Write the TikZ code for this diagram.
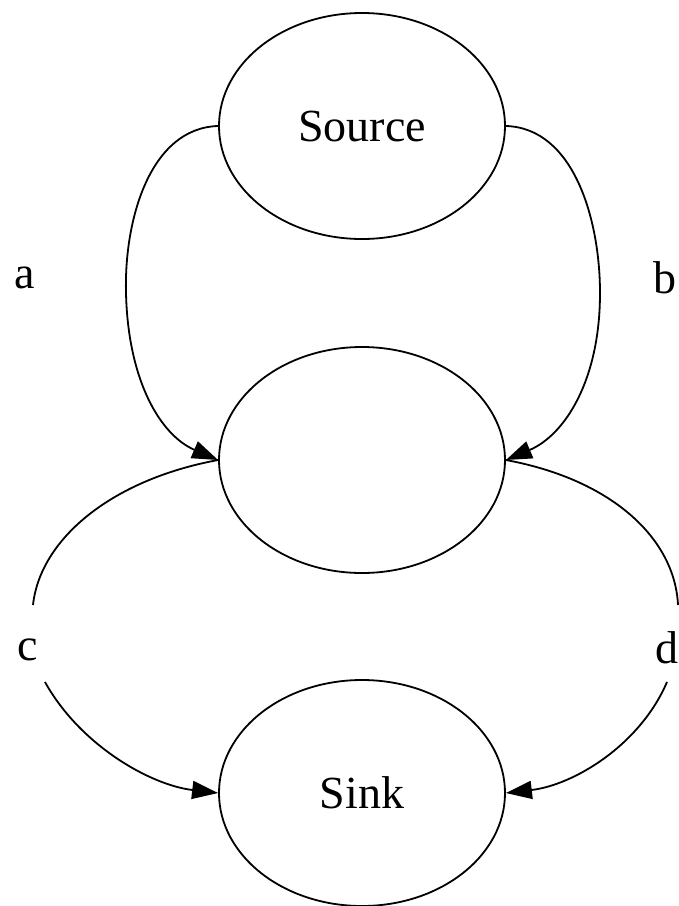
\documentclass[tikz,border=0pt]{standalone}
\usepackage{fontspec}
\setmainfont{Liberation Serif}
\usetikzlibrary{arrows.meta, shapes.geometric}

\tikzset{
  state/.style={draw, ellipse, line width=1.8pt, minimum width=286pt, minimum height=226pt, inner sep=0pt},
  flow/.style={line width=1.8pt},
  tip/.style={-{Triangle[length=26pt, width=18pt]}}
}

\begin{document}
\begin{tikzpicture}[x=1pt, y=-1pt, font=\fontsize{46}{50}\selectfont]
\useasboundingbox (0,0) rectangle (679,906);

\node[state] (src) at (362,126) {Source};
\node[state] (mid) at (362,460) {};
\node[state] (snk) at (362,793) {Sink};

\node (la) at (25,278) {a};
\node (lb) at (665,278) {b};
\node (lc) at (28,650) {c};
\node (ld) at (667,648) {d};

\coordinate (c1) at (33,605);
\coordinate (c2) at (45,682);
\coordinate (d1) at (678,605);
\coordinate (d2) at (667,682);

\draw[flow, tip] (src.west) .. controls (150,128) and (124,220) .. (126,293) .. controls (128,380) and (160,435) .. (mid.west);
\draw[flow, tip] (src.east) .. controls (574,128) and (600,220) .. (600,293) .. controls (600,380) and (565,435) .. (mid.east);
\draw[flow] (mid.west) .. controls (110,480) and (40,540) .. (c1);
\draw[flow, tip] (c2) .. controls (80,745) and (150,785) .. (snk.west);
\draw[flow] (mid.east) .. controls (614,480) and (675,540) .. (d1);
\draw[flow, tip] (d2) .. controls (640,745) and (574,785) .. (snk.east);
\end{tikzpicture}
\end{document}
